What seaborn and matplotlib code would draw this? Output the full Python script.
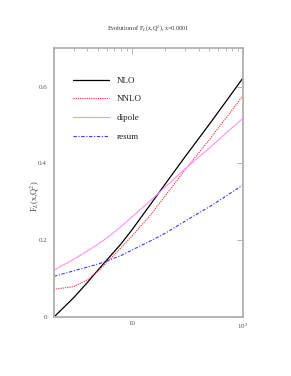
import matplotlib
matplotlib.use("Agg")
import matplotlib.pyplot as plt
import seaborn as sns
import numpy as np
import pandas as pd
from matplotlib.ticker import LogLocator, FixedLocator, NullFormatter, FixedFormatter

q2 = [2, 3, 4, 5, 6, 8, 10, 15, 20, 30, 50, 70, 100]
nlo = [0.0, 0.05, 0.09, 0.123, 0.149, 0.19, 0.226, 0.296, 0.346, 0.416, 0.502, 0.56, 0.622]
nnlo = [0.072, 0.079, 0.097, 0.12, 0.143, 0.18, 0.21, 0.268, 0.315, 0.382, 0.462, 0.517, 0.576]
dipole = [0.122, 0.15, 0.172, 0.19, 0.206, 0.235, 0.26, 0.305, 0.338, 0.385, 0.44, 0.478, 0.517]
resum = [0.106, 0.12, 0.13, 0.138, 0.146, 0.16, 0.174, 0.199, 0.218, 0.249, 0.287, 0.314, 0.344]
labels = ["NLO", "NNLO", "dipole", "resum"]
colors = ["black", "#ff2a2a", "#ff90ff", "#3a3aff"]
styles = ["-", (0, (1, 1)), "-", (0, (3, 1.5, 1, 1.5))]

sns.set_theme(style="white")
plt.rcParams['font.family'] = ['Liberation Serif', 'DejaVu Serif']
plt.rcParams['mathtext.fontset'] = 'stix'

df = pd.DataFrame({"q2": q2 * 4,
                   "val": nlo + nnlo + dipole + resum,
                   "series": sum([[l] * len(q2) for l in labels], [])})

fig = plt.figure(figsize=(2.91, 3.76), dpi=100)
ax = fig.add_axes([0.1856, 0.157, 0.649, 0.715])
for lab, c, ls in zip(labels, colors, styles):
    sub = df[df.series == lab]
    sns.lineplot(data=sub, x="q2", y="val", ax=ax, color=c, linestyle=ls,
                 linewidth=0.9 if lab == "NLO" else 0.8, label=lab)
ax.set_xscale("log")
ax.set_xlim(2, 100)
ax.set_ylim(0, 0.7)
ax.xaxis.set_major_locator(FixedLocator([10, 100]))
ax.xaxis.set_major_formatter(FixedFormatter(["10", r"10$^2$"]))
ax.xaxis.set_minor_locator(LogLocator(base=10, subs=np.arange(2, 10)))
ax.xaxis.set_minor_formatter(NullFormatter())
ax.set_yticks([0, 0.2, 0.4, 0.6])
ax.set_yticklabels(["0", "0.2", "0.4", "0.6"])
ax.tick_params(axis="both", which="both", direction="in", top=True, right=True,
               labelsize=5, colors="#aaaaaa", labelcolor="#555555", width=0.6)
ax.tick_params(which="major", length=4)
ax.tick_params(which="minor", length=2.5)
ax.tick_params(axis="x", pad=3)
ax.tick_params(axis="y", pad=5)
for s in ax.spines.values():
    s.set_color("#b0b0b0")
    s.set_linewidth(1.3)
ax.set_xlabel("")
ax.set_ylabel(r"F$_L$(x,Q$^2$)", fontsize=6, color="#444444")
ax.yaxis.set_label_coords(-0.065, 0.45)
ax.set_title(r"Evolution of F$_L$(x,Q$^2$), x=0.0001", fontsize=4.4, color="#333333", pad=13)
leg = ax.legend(loc="upper left", bbox_to_anchor=(0.06, 0.925), frameon=False,
                fontsize=6.5, handlelength=3.9, labelspacing=1.15, handletextpad=0.9)
for t in leg.get_texts():
    t.set_color("#222222")
fig.savefig("out.png", dpi=100)
